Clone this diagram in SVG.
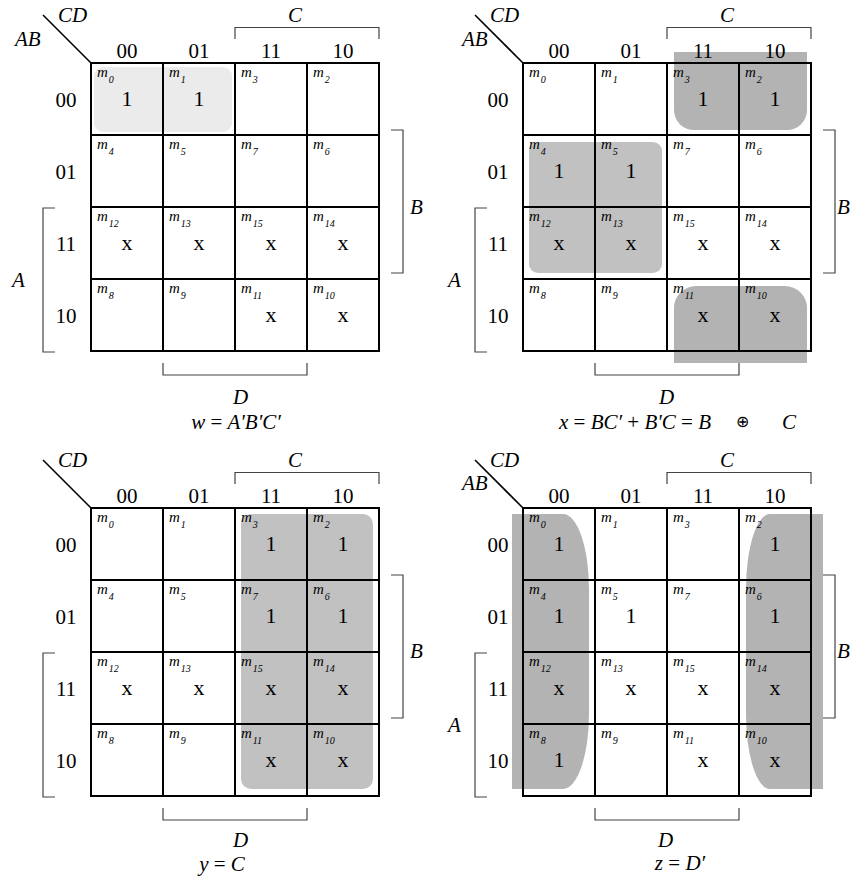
<svg xmlns="http://www.w3.org/2000/svg" xmlns:xlink="http://www.w3.org/1999/xlink" width="852" height="880" viewBox="0 0 852 880">
<style>
.ln{stroke:#000;stroke-width:2;fill:none}
.dg{stroke:#000;stroke-width:1.6;fill:none}
.br{stroke:#444;stroke-width:1.2;fill:none}
text{font-family:"Liberation Serif","Times New Roman",serif;fill:#000}
.lab{font-size:21px}
.it{font-style:italic}
.hd{font-size:21px;text-anchor:middle}
.m{font-size:15px;font-style:italic}
.s{font-size:10px}
.v{font-size:22px;text-anchor:middle}
.f{font-size:21px}
.lt{fill:#ebebeb}
.md{fill:#c1c1c1}
.dk{fill:#b3b3b3}
</style>
<defs>
<g id="frame">
<rect class="ln" x="0" y="0" width="288" height="288"/>
<path class="ln" d="M72,0V288M144,0V288M216,0V288M0,72H288M0,144H288M0,216H288"/>
<path class="dg" d="M-48,-48L0,0"/>
<path class="br" d="M144,-24V-35.5H288V-24"/>
<path class="br" d="M300,67H312V210H300"/>
<path class="br" d="M-36,145H-48V289H-36"/>
<path class="br" d="M72,300V312H216V300"/>
</g>
</defs>

<!-- Map w -->
<g id="map-w" transform="translate(91,63)">
<rect class="lt" x="3" y="4" width="138" height="65" rx="9"/>
<use xlink:href="#frame" href="#frame"/>
<text class="lab it" x="-33" y="-41">CD</text>
<text class="lab it" x="-76" y="-17">AB</text>
<text class="lab it" x="197" y="-41">C</text>
<text class="lab it" x="319" y="151">B</text>
<text class="lab it" x="-79" y="224">A</text>
<text class="lab it" x="142" y="341">D</text>
<text class="hd" x="36" y="-5">00</text><text class="hd" x="108" y="-5">01</text><text class="hd" x="180" y="-5">11</text><text class="hd" x="252" y="-5">10</text>
<text class="hd" x="-25" y="44">00</text><text class="hd" x="-25" y="116">01</text><text class="hd" x="-25" y="188">11</text><text class="hd" x="-25" y="260">10</text>
<text class="m" x="6" y="14">m<tspan class="s" dx="1" dy="6">0</tspan></text>
<text class="m" x="78" y="14">m<tspan class="s" dx="1" dy="6">1</tspan></text>
<text class="m" x="150" y="14">m<tspan class="s" dx="1" dy="6">3</tspan></text>
<text class="m" x="222" y="14">m<tspan class="s" dx="1" dy="6">2</tspan></text>
<text class="m" x="6" y="86">m<tspan class="s" dx="1" dy="6">4</tspan></text>
<text class="m" x="78" y="86">m<tspan class="s" dx="1" dy="6">5</tspan></text>
<text class="m" x="150" y="86">m<tspan class="s" dx="1" dy="6">7</tspan></text>
<text class="m" x="222" y="86">m<tspan class="s" dx="1" dy="6">6</tspan></text>
<text class="m" x="6" y="158">m<tspan class="s" dx="1" dy="6">12</tspan></text>
<text class="m" x="78" y="158">m<tspan class="s" dx="1" dy="6">13</tspan></text>
<text class="m" x="150" y="158">m<tspan class="s" dx="1" dy="6">15</tspan></text>
<text class="m" x="222" y="158">m<tspan class="s" dx="1" dy="6">14</tspan></text>
<text class="m" x="6" y="230">m<tspan class="s" dx="1" dy="6">8</tspan></text>
<text class="m" x="78" y="230">m<tspan class="s" dx="1" dy="6">9</tspan></text>
<text class="m" x="150" y="230">m<tspan class="s" dx="1" dy="6">11</tspan></text>
<text class="m" x="222" y="230">m<tspan class="s" dx="1" dy="6">10</tspan></text>
<text class="v" x="36" y="43">1</text><text class="v" x="108" y="43">1</text>
<text class="v" x="36" y="187">x</text><text class="v" x="108" y="187">x</text><text class="v" x="180" y="187">x</text><text class="v" x="252" y="187">x</text>
<text class="v" x="180" y="259">x</text><text class="v" x="252" y="259">x</text>
</g>
<text class="f" x="236" y="429" text-anchor="middle"><tspan class="it">w</tspan> = <tspan class="it">A'B'C′</tspan></text>

<!-- Map x -->
<g id="map-x" transform="translate(523,63)">
<path class="dk" d="M151,-11H284V47A20,20 0 0 1 264,67H171A20,20 0 0 1 151,47Z"/>
<rect class="md" x="6" y="79" width="133" height="131" rx="9"/>
<path class="dk" d="M151,300V245A22,22 0 0 1 173,223H262A22,22 0 0 1 284,245V300Z"/>
<use xlink:href="#frame" href="#frame"/>
<text class="lab it" x="-33" y="-41">CD</text>
<text class="lab it" x="-61" y="-17">AB</text>
<text class="lab it" x="197" y="-41">C</text>
<text class="lab it" x="314" y="151">B</text>
<text class="lab it" x="-75" y="224">A</text>
<text class="lab it" x="136" y="341">D</text>
<text class="hd" x="36" y="-5">00</text><text class="hd" x="108" y="-5">01</text><text class="hd" x="180" y="-5">11</text><text class="hd" x="252" y="-5">10</text>
<text class="hd" x="-25" y="44">00</text><text class="hd" x="-25" y="116">01</text><text class="hd" x="-25" y="188">11</text><text class="hd" x="-25" y="260">10</text>
<text class="m" x="6" y="14">m<tspan class="s" dx="1" dy="6">0</tspan></text>
<text class="m" x="78" y="14">m<tspan class="s" dx="1" dy="6">1</tspan></text>
<text class="m" x="150" y="14">m<tspan class="s" dx="1" dy="6">3</tspan></text>
<text class="m" x="222" y="14">m<tspan class="s" dx="1" dy="6">2</tspan></text>
<text class="m" x="6" y="86">m<tspan class="s" dx="1" dy="6">4</tspan></text>
<text class="m" x="78" y="86">m<tspan class="s" dx="1" dy="6">5</tspan></text>
<text class="m" x="150" y="86">m<tspan class="s" dx="1" dy="6">7</tspan></text>
<text class="m" x="222" y="86">m<tspan class="s" dx="1" dy="6">6</tspan></text>
<text class="m" x="6" y="158">m<tspan class="s" dx="1" dy="6">12</tspan></text>
<text class="m" x="78" y="158">m<tspan class="s" dx="1" dy="6">13</tspan></text>
<text class="m" x="150" y="158">m<tspan class="s" dx="1" dy="6">15</tspan></text>
<text class="m" x="222" y="158">m<tspan class="s" dx="1" dy="6">14</tspan></text>
<text class="m" x="6" y="230">m<tspan class="s" dx="1" dy="6">8</tspan></text>
<text class="m" x="78" y="230">m<tspan class="s" dx="1" dy="6">9</tspan></text>
<text class="m" x="150" y="230">m<tspan class="s" dx="1" dy="6">11</tspan></text>
<text class="m" x="222" y="230">m<tspan class="s" dx="1" dy="6">10</tspan></text>
<text class="v" x="180" y="43">1</text><text class="v" x="252" y="43">1</text>
<text class="v" x="36" y="115">1</text><text class="v" x="108" y="115">1</text>
<text class="v" x="36" y="187">x</text><text class="v" x="108" y="187">x</text><text class="v" x="180" y="187">x</text><text class="v" x="252" y="187">x</text>
<text class="v" x="180" y="259">x</text><text class="v" x="252" y="259">x</text>
</g>
<text class="f" x="559" y="429"><tspan class="it">x</tspan> = <tspan class="it">BC′</tspan> + <tspan class="it">B'C</tspan> = <tspan class="it">B</tspan><tspan x="736" y="427" font-size="16">⊕</tspan><tspan class="it" x="782" y="429">C</tspan></text>

<!-- Map y -->
<g id="map-y" transform="translate(91,508)">
<rect class="md" x="150" y="6" width="132" height="275" rx="10"/>
<use xlink:href="#frame" href="#frame"/>
<text class="lab it" x="-33" y="-41">CD</text>
<text class="lab it" x="197" y="-41">C</text>
<text class="lab it" x="319" y="150">B</text>
<text class="lab it" x="142" y="339">D</text>
<text class="hd" x="36" y="-5">00</text><text class="hd" x="108" y="-5">01</text><text class="hd" x="180" y="-5">11</text><text class="hd" x="252" y="-5">10</text>
<text class="hd" x="-25" y="44">00</text><text class="hd" x="-25" y="116">01</text><text class="hd" x="-25" y="188">11</text><text class="hd" x="-25" y="260">10</text>
<text class="m" x="6" y="14">m<tspan class="s" dx="1" dy="6">0</tspan></text>
<text class="m" x="78" y="14">m<tspan class="s" dx="1" dy="6">1</tspan></text>
<text class="m" x="150" y="14">m<tspan class="s" dx="1" dy="6">3</tspan></text>
<text class="m" x="222" y="14">m<tspan class="s" dx="1" dy="6">2</tspan></text>
<text class="m" x="6" y="86">m<tspan class="s" dx="1" dy="6">4</tspan></text>
<text class="m" x="78" y="86">m<tspan class="s" dx="1" dy="6">5</tspan></text>
<text class="m" x="150" y="86">m<tspan class="s" dx="1" dy="6">7</tspan></text>
<text class="m" x="222" y="86">m<tspan class="s" dx="1" dy="6">6</tspan></text>
<text class="m" x="6" y="158">m<tspan class="s" dx="1" dy="6">12</tspan></text>
<text class="m" x="78" y="158">m<tspan class="s" dx="1" dy="6">13</tspan></text>
<text class="m" x="150" y="158">m<tspan class="s" dx="1" dy="6">15</tspan></text>
<text class="m" x="222" y="158">m<tspan class="s" dx="1" dy="6">14</tspan></text>
<text class="m" x="6" y="230">m<tspan class="s" dx="1" dy="6">8</tspan></text>
<text class="m" x="78" y="230">m<tspan class="s" dx="1" dy="6">9</tspan></text>
<text class="m" x="150" y="230">m<tspan class="s" dx="1" dy="6">11</tspan></text>
<text class="m" x="222" y="230">m<tspan class="s" dx="1" dy="6">10</tspan></text>
<text class="v" x="180" y="43">1</text><text class="v" x="252" y="43">1</text>
<text class="v" x="180" y="115">1</text><text class="v" x="252" y="115">1</text>
<text class="v" x="36" y="187">x</text><text class="v" x="108" y="187">x</text><text class="v" x="180" y="187">x</text><text class="v" x="252" y="187">x</text>
<text class="v" x="180" y="259">x</text><text class="v" x="252" y="259">x</text>
</g>
<text class="f" x="222" y="871" text-anchor="middle"><tspan class="it">y</tspan> = <tspan class="it">C</tspan></text>

<!-- Map z -->
<g id="map-z" transform="translate(523,508)">
<path class="dk" d="M-11,6H40A26,75 0 0 1 66,81V206A26,75 0 0 1 40,281H-11Z"/>
<path class="dk" d="M300,6V281H247A24,75 0 0 1 223,206V81A24,75 0 0 1 247,6Z"/>
<use xlink:href="#frame" href="#frame"/>
<text class="lab it" x="-33" y="-41">CD</text>
<text class="lab it" x="-61" y="-18">AB</text>
<text class="lab it" x="197" y="-41">C</text>
<text class="lab it" x="314" y="150">B</text>
<text class="lab it" x="-75" y="224">A</text>
<text class="lab it" x="135" y="339">D</text>
<text class="hd" x="36" y="-5">00</text><text class="hd" x="108" y="-5">01</text><text class="hd" x="180" y="-5">11</text><text class="hd" x="252" y="-5">10</text>
<text class="hd" x="-25" y="44">00</text><text class="hd" x="-25" y="116">01</text><text class="hd" x="-25" y="188">11</text><text class="hd" x="-25" y="260">10</text>
<text class="m" x="6" y="14">m<tspan class="s" dx="1" dy="6">0</tspan></text>
<text class="m" x="78" y="14">m<tspan class="s" dx="1" dy="6">1</tspan></text>
<text class="m" x="150" y="14">m<tspan class="s" dx="1" dy="6">3</tspan></text>
<text class="m" x="222" y="14">m<tspan class="s" dx="1" dy="6">2</tspan></text>
<text class="m" x="6" y="86">m<tspan class="s" dx="1" dy="6">4</tspan></text>
<text class="m" x="78" y="86">m<tspan class="s" dx="1" dy="6">5</tspan></text>
<text class="m" x="150" y="86">m<tspan class="s" dx="1" dy="6">7</tspan></text>
<text class="m" x="222" y="86">m<tspan class="s" dx="1" dy="6">6</tspan></text>
<text class="m" x="6" y="158">m<tspan class="s" dx="1" dy="6">12</tspan></text>
<text class="m" x="78" y="158">m<tspan class="s" dx="1" dy="6">13</tspan></text>
<text class="m" x="150" y="158">m<tspan class="s" dx="1" dy="6">15</tspan></text>
<text class="m" x="222" y="158">m<tspan class="s" dx="1" dy="6">14</tspan></text>
<text class="m" x="6" y="230">m<tspan class="s" dx="1" dy="6">8</tspan></text>
<text class="m" x="78" y="230">m<tspan class="s" dx="1" dy="6">9</tspan></text>
<text class="m" x="150" y="230">m<tspan class="s" dx="1" dy="6">11</tspan></text>
<text class="m" x="222" y="230">m<tspan class="s" dx="1" dy="6">10</tspan></text>
<text class="v" x="36" y="43">1</text><text class="v" x="252" y="43">1</text>
<text class="v" x="36" y="115">1</text><text class="v" x="108" y="115">1</text><text class="v" x="252" y="115">1</text>
<text class="v" x="36" y="187">x</text><text class="v" x="108" y="187">x</text><text class="v" x="180" y="187">x</text><text class="v" x="252" y="187">x</text>
<text class="v" x="36" y="259">1</text><text class="v" x="180" y="259">x</text><text class="v" x="252" y="259">x</text>
</g>
<text class="f" x="680" y="870" text-anchor="middle"><tspan class="it">z</tspan> = <tspan class="it">D′</tspan></text>
</svg>
